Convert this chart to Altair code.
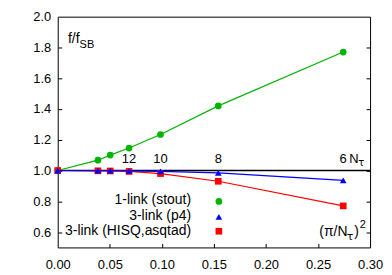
import altair as alt
import pandas as pd

# ---- data ----
x_vals = [0.0, 0.0386, 0.0504, 0.0685, 0.0987, 0.1542, 0.2742]   # (pi/N_tau)^2
stout = [1.0, 1.067, 1.100, 1.146, 1.234, 1.420, 1.770]          # 1-link (stout)
p4 = [1.0, 0.999, 0.999, 0.998, 0.994, 0.984, 0.936]             # 3-link (p4)
hisq = [1.0, 0.998, 0.997, 0.994, 0.980, 0.930, 0.770]           # 3-link (HISQ,asqtad)

series_names = ["1-link (stout)", "3-link (p4)", "3-link (HISQ,asqtad)"]
nt_labels = ["12", "10", "8", "6"]
nt_x = [0.0685, 0.0987, 0.1542, 0.2742]
x_ticks = [0.0, 0.05, 0.10, 0.15, 0.20, 0.25, 0.30]
y_ticks = [0.6, 0.8, 1.0, 1.2, 1.4, 1.6, 1.8, 2.0]
ref_line = [1.0]

FONT = "Liberation Sans"
GREEK = "DejaVu Sans"
W, H = 314, 232
xs = alt.Scale(domain=[0.0, 0.30], nice=False, zero=False)
ys = alt.Scale(domain=[0.5, 2.0], nice=False, zero=False)

df_all = pd.DataFrame({"x": x_vals * 3, "y": stout + p4 + hisq})

# main axes with labels
axes_main = alt.Chart(df_all).mark_point(opacity=0).encode(
    x=alt.X("x:Q", scale=xs, axis=alt.Axis(orient="bottom", values=x_ticks, format=".2f",
                                           ticks=False, domain=False, grid=False, labelPadding=11,
                                           labelFontSize=13, labelFont=FONT, labelColor="black",
                                           title=None, labelFlush=False)),
    y=alt.Y("y:Q", scale=ys, axis=alt.Axis(orient="left", values=y_ticks, format=".1f",
                                           ticks=False, domain=False, grid=False, labelPadding=7,
                                           labelFontSize=13, labelFont=FONT, labelColor="black",
                                           title=None, labelFlush=False)),
)
# inward ticks: left + bottom
ticks_lb = alt.Chart(df_all).mark_point(opacity=0).encode(
    x=alt.X("x:Q", scale=xs, axis=alt.Axis(orient="bottom", values=x_ticks[1:-1], offset=-4,
                                           tickSize=4, ticks=True, labels=False, domain=False,
                                           grid=False, title=None, tickColor="black")),
    y=alt.Y("y:Q", scale=ys, axis=alt.Axis(orient="left", values=y_ticks[:-1], offset=-4,
                                           tickSize=4, ticks=True, labels=False, domain=False,
                                           grid=False, title=None, tickColor="black")),
)
# inward ticks: right
ticks_r = alt.Chart(df_all).mark_point(opacity=0).encode(
    x=alt.X("x:Q", scale=xs, axis=None),
    y=alt.Y("y:Q", scale=ys, axis=alt.Axis(orient="right", values=y_ticks[:-1], offset=-4,
                                           tickSize=4, ticks=True, labels=False, domain=False,
                                           grid=False, title=None, tickColor="black")),
)

hline = alt.Chart(pd.DataFrame({"y": ref_line})).mark_rule(color="black", strokeWidth=1.5).encode(
    y=alt.Y("y:Q", scale=ys, axis=None)
)


def series_layers(vals, color, shape, size):
    d = pd.DataFrame({"x": x_vals, "y": vals})
    enc = dict(x=alt.X("x:Q", scale=xs, axis=None), y=alt.Y("y:Q", scale=ys, axis=None))
    line = alt.Chart(d).mark_line(color=color, strokeWidth=1.2).encode(**enc)
    pts = alt.Chart(d).mark_point(filled=True, shape=shape, size=size, color=color,
                                  opacity=1).encode(**enc)
    return [line, pts]


layers = [axes_main, ticks_lb, ticks_r, hline]
layers += series_layers(stout, "#00b400", "circle", 45)
layers += series_layers(hisq, "#ff0000", "square", 45)
layers += series_layers(p4, "#0000ff", "triangle-up", 45)

nt_df = pd.DataFrame({"x": nt_x, "t": nt_labels})
nt_text = alt.Chart(nt_df).mark_text(font=FONT, fontSize=13, baseline="alphabetic",
                                     align="center", color="black").encode(
    x=alt.X("x:Q", scale=xs, axis=None), y=alt.value(146.7), text="t:N")
layers.append(nt_text)


def txt(s, x, y, size, align="left", font=FONT):
    return alt.Chart(pd.DataFrame({"t": [s]})).mark_text(
        font=font, fontSize=size, align=align, baseline="alphabetic", color="black"
    ).encode(x=alt.value(x), y=alt.value(y), text="t:N")


# N_tau label
layers += [txt("N", 293.0, 146.7, 13), txt("τ", 302.0, 150.5, 10, font=GREEK)]
# y title f/f_SB
layers += [txt("f/f", 10.3, 26.7, 14), txt("SB", 22.0, 31.3, 11)]
# x title (pi/N_tau)^2
layers += [txt("(π/N", 263.0, 221.0, 14), txt("τ", 290.5, 225.0, 11, font=GREEK),
           txt(")", 298.0, 221.0, 14), txt("2", 303.5, 212.5, 11)]

# key
key_rows_y = [188.5, 204.5, 219.5]
key_sym_y = [185.7, 201.3, 215.7]
key_style = [("#00b400", "circle"), ("#0000ff", "triangle-up"), ("#ff0000", "square")]
for name, ty, sy, (col, shp) in zip(series_names, key_rows_y, key_sym_y, key_style):
    layers.append(txt(name, 134.0, ty, 14, align="right"))
    layers.append(alt.Chart(pd.DataFrame({"t": [name]})).mark_point(
        filled=True, shape=shp, size=45, color=col, opacity=1).encode(
        x=alt.value(162.0), y=alt.value(sy)))

chart = alt.layer(*layers).resolve_axis(x="independent", y="independent").properties(
    width=W, height=H,
    autosize=alt.AutoSizeParams(type="none"),
    padding={"left": 50, "top": 8, "right": 14, "bottom": 26},
).configure_view(stroke="black", strokeWidth=1)

chart.save("out.html", embed_options={"renderer": "svg", "actions": False})
